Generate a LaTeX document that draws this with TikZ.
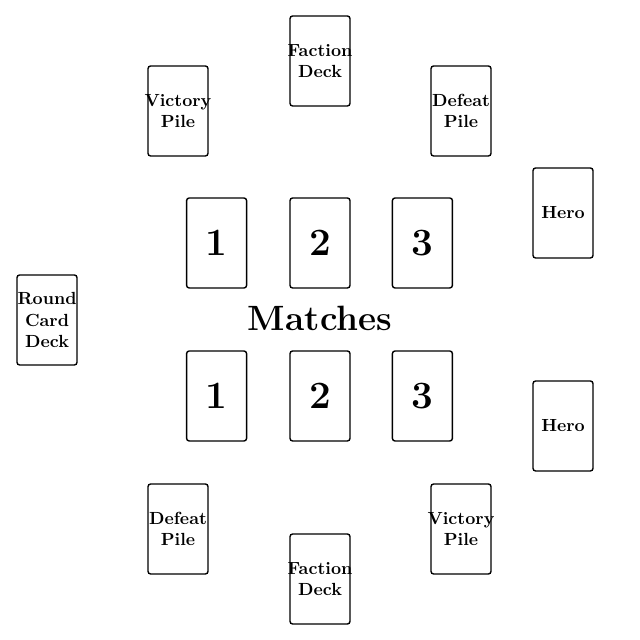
\documentclass[tikz,border=0pt]{standalone}
\usepackage{tikz}
\usetikzlibrary{positioning}

\begin{document}
\begin{tikzpicture}[
    node distance=0.84cm and 0.84cm,
    card/.style={draw, thick, rectangle, rounded corners=1.5pt, minimum width=1.2cm, minimum height=1.8cm, align=center, inner xsep=-1.5mm, inner ysep=0pt, font=\bfseries},
    numcard/.style={card, font=\bfseries\fontsize{22}{24}\selectfont},
    title/.style={font=\bfseries\fontsize{20}{24}\selectfont}
]
\useasboundingbox (0,0) rectangle (12.8,12.8);

% Centre: the matches
\node[title] (matches) at (6.4,6.44) {Matches};
\node[numcard] (top2) at (6.4,7.94) {2};
\node[numcard, left=0.84cm of top2] (top1) {1};
\node[numcard, right=0.82cm of top2] (top3) {3};
\node[numcard] (bot2) at (6.4,4.88) {2};
\node[numcard, left=0.84cm of bot2] (bot1) {1};
\node[numcard, right=0.82cm of bot2] (bot3) {3};

% Top player
\node[card] (factiontop) at (6.4,11.58) {Faction\\Deck};
\node[card] (victorytop) at (3.56,10.58) {Victory\\Pile};
\node[card] (defeattop) at (9.22,10.58) {Defeat\\Pile};
\node[card] (herotop) at (11.26,8.54) {Hero};

% Bottom player
\node[card] (factionbot) at (6.4,1.22) {Faction\\Deck};
\node[card] (defeatbot) at (3.56,2.22) {Defeat\\Pile};
\node[card] (victorybot) at (9.22,2.22) {Victory\\Pile};
\node[card] (herobot) at (11.26,4.28) {Hero};

% Shared deck
\node[card] (round) at (0.94,6.4) {Round\\Card\\Deck};

\end{tikzpicture}
\end{document}
